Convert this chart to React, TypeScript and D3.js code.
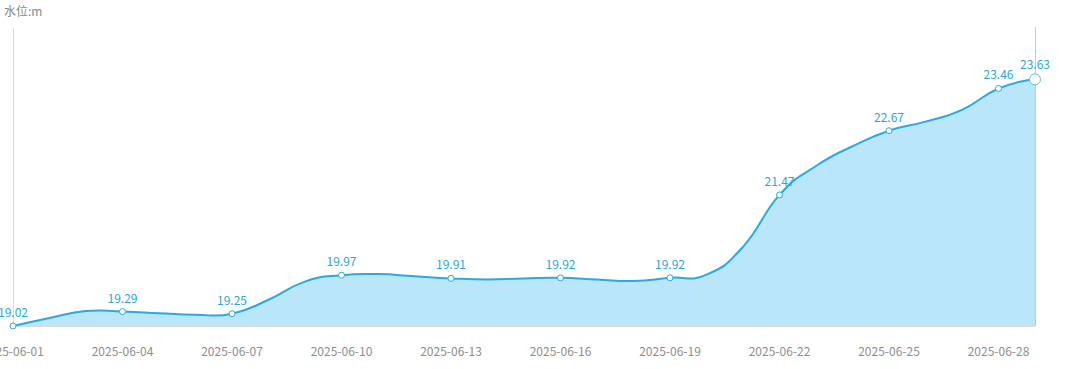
import React from "react";
import * as d3 from "d3";

const dates = [
  "2025-06-01","2025-06-02","2025-06-03","2025-06-04","2025-06-05","2025-06-06","2025-06-07",
  "2025-06-08","2025-06-09","2025-06-10","2025-06-11","2025-06-12","2025-06-13","2025-06-14",
  "2025-06-15","2025-06-16","2025-06-17","2025-06-18","2025-06-19","2025-06-20","2025-06-21",
  "2025-06-22","2025-06-23","2025-06-24","2025-06-25","2025-06-26","2025-06-27","2025-06-28",
  "2025-06-29",
];
const levels = [
  19.02, 19.17, 19.3, 19.29, 19.26, 19.23, 19.25,
  19.51, 19.85, 19.97, 19.99, 19.95, 19.91, 19.89,
  19.91, 19.92, 19.89, 19.86, 19.92, 19.98, 20.5,
  21.47, 22.01, 22.38, 22.67, 22.84, 23.06, 23.46,
  23.63,
];
const yDomain = [19.02, 24.59];
const yAxisName = "水位:m";

const W = 1080;
const H = 369;
const FONT = '"Noto Sans CJK SC", "Noto Sans", sans-serif';
const LINE = "#2aaae2";
const FILL = "#b9e6f9";
const LABEL = "#2aa6e0";

export default function App() {
  const x = d3.scalePoint<string>().domain(dates).range([13, 1035]);
  const y = d3.scaleLinear().domain(yDomain).range([326, 28]);
  const curve = d3.curveCardinal.tension(-0.5);
  const line = d3
    .line<number>()
    .x((_, i) => x(dates[i]) as number)
    .y((d) => y(d))
    .curve(curve);
  const area = d3
    .area<number>()
    .x((_, i) => x(dates[i]) as number)
    .y0(y(yDomain[0]))
    .y1((d) => y(d))
    .curve(curve);
  const labelIdx = dates.map((_, i) => i).filter((i) => i % 3 === 0 || i === dates.length - 1);
  const last = dates.length - 1;
  return (
    <svg
      width={W}
      height={H}
      style={{ position: "absolute", left: 0, top: 0, fontFamily: FONT }}
    >
      <rect width={W} height={H} fill="#fff" />
      <text x={4} y={16} fontSize={12} fill="#888">{yAxisName}</text>
      <line x1={13.5} x2={13.5} y1={28} y2={326} stroke="#dcdcdc" />
      <path d={area(levels) ?? ""} fill={FILL} />
      <line x1={13} x2={1035} y1={326.5} y2={326.5} stroke="#d9d9d9" />
      <line x1={1035.5} x2={1035.5} y1={27} y2={326} stroke="#c8c8c8" />
      <path d={line(levels) ?? ""} fill="none" stroke={LINE} strokeWidth={2} />
      {labelIdx.map((i) => {
        const cx = x(dates[i]) as number;
        const cy = y(levels[i]);
        const big = i === last;
        return (
          <g key={i}>
            <circle
              cx={cx}
              cy={cy}
              r={big ? 5.5 : 3}
              fill="#fff"
              stroke={big ? "#5cc0ec" : LINE}
              strokeWidth={1}
            />
            <text
              x={cx}
              y={cy - (big ? 10 : 9)}
              textAnchor="middle"
              fontSize={12}
              fill={LABEL}
            >
              {levels[i].toFixed(2)}
            </text>
          </g>
        );
      })}
      {dates.map((d, i) =>
        i % 3 === 0 ? (
          <text
            key={d}
            x={x(d) as number}
            y={356}
            textAnchor="middle"
            fontSize={12}
            fill="#8e8e8e"
          >
            {d}
          </text>
        ) : null
      )}
    </svg>
  );
}
